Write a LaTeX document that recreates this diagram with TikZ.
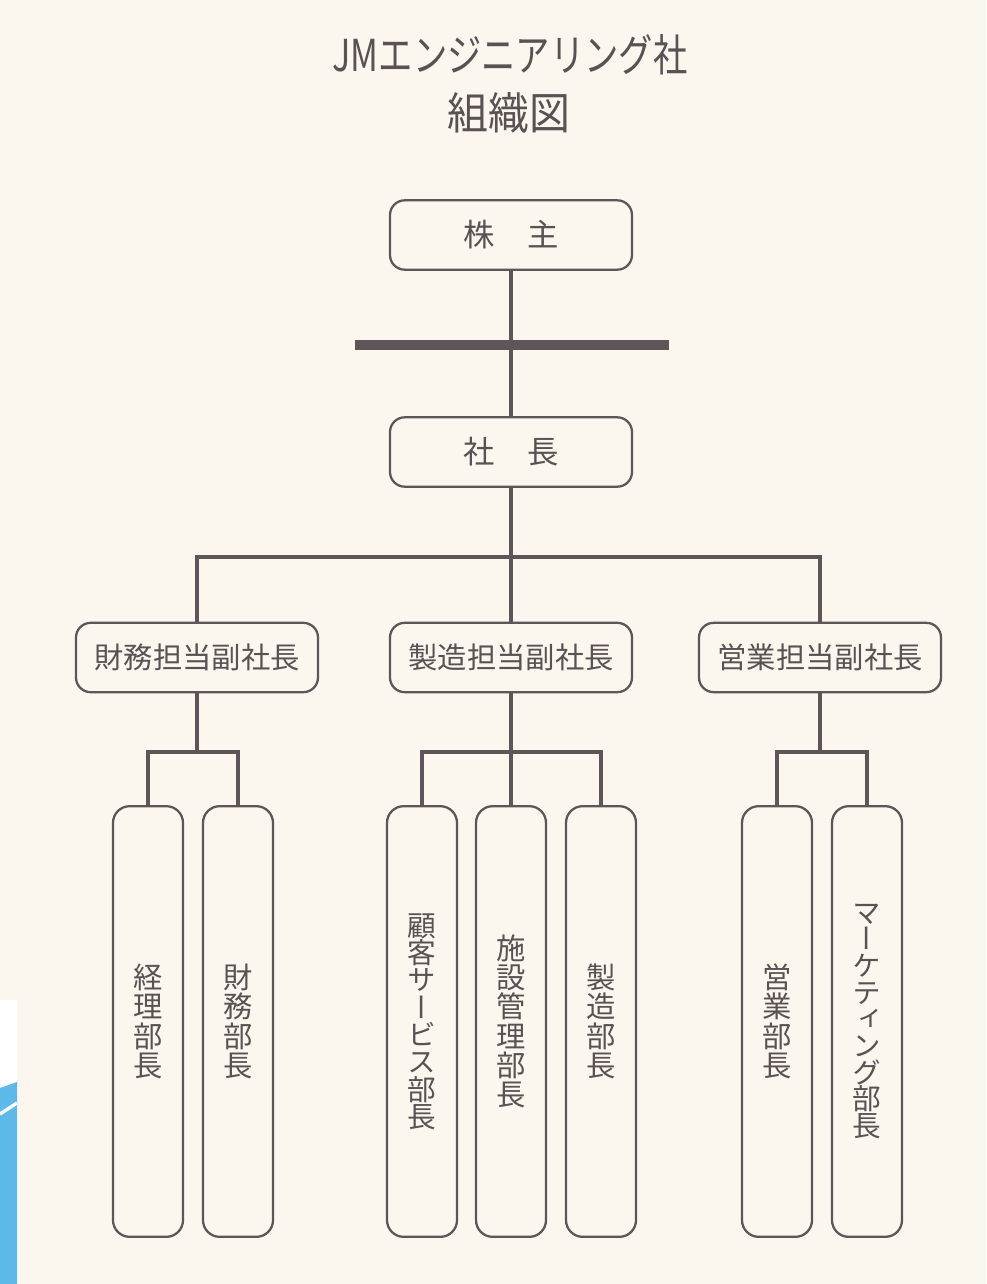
\documentclass[tikz,border=0pt]{standalone}
\usepackage{fontspec}
\usepackage{graphicx}
\newfontfamily\jp{Noto Sans CJK JP}
\newfontfamily\vjp[RawFeature=+vert]{Noto Sans CJK JP}
\definecolor{ink}{HTML}{5E5558}
\definecolor{paper}{HTML}{FBF7EE}
\definecolor{txt}{HTML}{595153}
\definecolor{scanblue}{HTML}{5DB9E8}
\begin{document}
\begin{tikzpicture}[x=0.75pt,y=-0.75pt,
  topbox/.style={draw=ink,line width=1.7pt,rounded corners=11pt,
    minimum width=181.5pt,minimum height=52pt,inner sep=0pt,
    text=txt,font=\jp\fontsize{22pt}{22pt}\selectfont},
  deptbox/.style={draw=ink,line width=1.7pt,rounded corners=12.5pt,
    minimum width=52.5pt,minimum height=323pt,inner sep=0pt,
    text=txt,align=center,font=\vjp\fontsize{22pt}{22pt}\selectfont},
  conn/.style={draw=ink,line width=3pt},
  titletext/.style={text=txt,inner sep=0pt,font=\jp\fontsize{33pt}{33pt}\selectfont}]
\useasboundingbox (0,0) rectangle (986,1284);
\fill[paper] (0,0) rectangle (986,1284);
% scan edge
\fill[white] (0,1000) rectangle (17,1284);
\fill[scanblue] (0,1088) -- (17,1082) -- (17,1284) -- (0,1284) -- cycle;
\draw[white,line width=2.5pt] (0,1114) -- (17,1103);

% title
\node[titletext] (t1) at (510,55) {\scalebox{0.78}[1]{JMエンジニアリング社}};
\node[titletext] (t2) at (509,113) {\scalebox{0.93}[1]{組織図}};

% top boxes
\node[topbox,font=\jp\fontsize{23.5pt}{23.5pt}\selectfont] (sh) at (511,235) {株\hspace{1.05em}主};
\node[topbox,font=\jp\fontsize{23.5pt}{23.5pt}\selectfont] (pres) at (511,452) {社\hspace{1.05em}長};
\node[fill=ink,minimum width=236pt,minimum height=7.5pt,inner sep=0pt] (bar) at (512,345) {};

% vice presidents
\node[topbox] (vpf) at (197,657.5) {財務担当副社長};
\node[topbox] (vpm) at (511,657.5) {製造担当副社長};
\node[topbox] (vps) at (820,657.5) {営業担当副社長};

% departments
\node[deptbox] (d1) at (148,1021.5) {経\\理\\部\\長};
\node[deptbox] (d2) at (238,1021.5) {財\\務\\部\\長};
\node[deptbox,font=\vjp\fontsize{21.5pt}{20.5pt}\selectfont] (d3) at (422,1021.5) {顧\\客\\サ\\ー\\ビ\\ス\\部\\長};
\node[deptbox] (d4) at (511,1021.5) {施\\設\\管\\理\\部\\長};
\node[deptbox] (d5) at (601,1021.5) {製\\造\\部\\長};
\node[deptbox] (d6) at (777,1021.5) {営\\業\\部\\長};
\node[deptbox,font=\vjp\fontsize{21.5pt}{20pt}\selectfont] (d7) at (867,1021.5) {マ\\ー\\ケ\\テ\\ィ\\ン\\グ\\部\\長};

% junctions
\coordinate (j1) at (511,557);
\coordinate (j2) at (197,752);
\coordinate (j3) at (511,752);
\coordinate (j4) at (820,752);

% connectors
\draw[conn] (sh.south) -- (pres.north);
\draw[conn] (pres.south) -- (j1);
\draw[conn] (vpf.north) |- (j1) -| (vps.north);
\draw[conn] (j1) -- (vpm.north);

\draw[conn] (vpf.south) -- (j2);
\draw[conn] (d1.north) |- (j2) -| (d2.north);

\draw[conn] (vpm.south) -- (d4.north);
\draw[conn] (d3.north) |- (j3) -| (d5.north);

\draw[conn] (vps.south) -- (j4);
\draw[conn] (d6.north) |- (j4) -| (d7.north);
\end{tikzpicture}
\end{document}
